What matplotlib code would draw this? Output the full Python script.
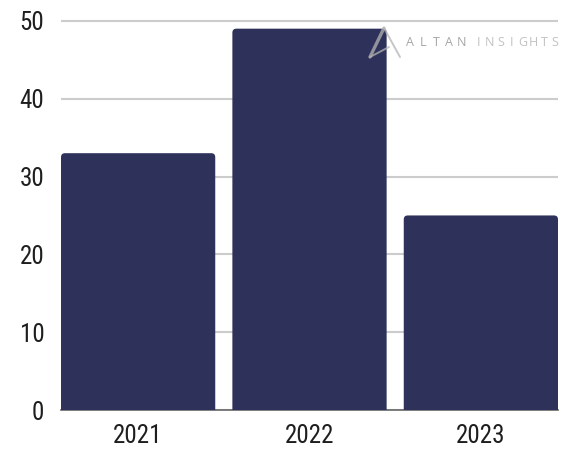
import matplotlib
matplotlib.use("Agg")
import matplotlib.pyplot as plt
from matplotlib.patches import FancyBboxPatch
from matplotlib.lines import Line2D

years = ["2021", "2022", "2023"]
values = [33, 49, 25]
y_ticks = [0, 10, 20, 30, 40, 50]

plt.rcParams['font.family'] = ['Roboto Condensed', 'Roboto', 'DejaVu Sans']

W, H, DPI = 564, 451, 100
fig = plt.figure(figsize=(W / DPI, H / DPI), dpi=DPI)
ax = fig.add_axes([61 / W, 41 / H, 497 / W, 393 / H])

bar_color = "#2e3159"
x = list(range(len(years)))
bars = ax.bar(x, values, width=0.9, color=bar_color, zorder=3)

ax.set_xlim(-0.45, len(years) - 0.55)
ax.set_ylim(0, 50.5)

# rounded top corners: replace plain rectangles with rounded boxes,
# extending below the baseline so the bottom corners are clipped away
x_per_px = (len(years) - 0.1) / 497
y_per_px = 50.5 / 393
radius_px = 4
for rect in bars:
    rect.set_visible(False)
    bx, bw, bh = rect.get_x(), rect.get_width(), rect.get_height()
    patch = FancyBboxPatch(
        (bx, -2), bw, bh + 2,
        boxstyle=f"round,pad=0,rounding_size={radius_px * x_per_px}",
        mutation_aspect=y_per_px / x_per_px,
        facecolor=bar_color, edgecolor="none", zorder=3,
    )
    ax.add_patch(patch)

ax.set_yticks(y_ticks)
ax.set_xticks(x)
ax.set_xticklabels(years)
ax.yaxis.grid(True, color="#cccccc", linewidth=1.5, zorder=0)
ax.set_axisbelow(True)
for s in ["top", "right", "left"]:
    ax.spines[s].set_visible(False)
ax.spines["bottom"].set_color("#666666")
ax.spines["bottom"].set_linewidth(1.2)
ax.spines["bottom"].set_zorder(2)
ax.tick_params(axis="both", length=0, labelsize=18, labelcolor="#1e1e1e")
ax.tick_params(axis="y", pad=12)
ax.tick_params(axis="x", pad=10)

# watermark: letter-spaced brand name with a small triangle mark
def spaced(text, x0, step, color):
    for i, ch in enumerate(text):
        fig.text((x0 + i * step) / W, 1 - 43 / H, ch, fontsize=9,
                 color=color, va="center", ha="center",
                 family=["Open Sans", "DejaVu Sans"])

spaced("ALTAN", 410, 13.0, "#a6a6a6")
spaced("INSIGHTS", 479, 10.9, "#c2c2c2")

mark = [((384, 28), (370, 57), 2.4), ((384, 28), (400, 57), 1.4),
        ((370, 57), (389, 47), 1.4)]
for (x0, y0), (x1, y1), lw in mark:
    fig.add_artist(Line2D([x0 / W, x1 / W], [1 - y0 / H, 1 - y1 / H],
                          transform=fig.transFigure, color="#b4b4b4",
                          linewidth=lw, alpha=0.75, zorder=5,
                          solid_capstyle="round"))

fig.savefig("out.png", dpi=DPI)
